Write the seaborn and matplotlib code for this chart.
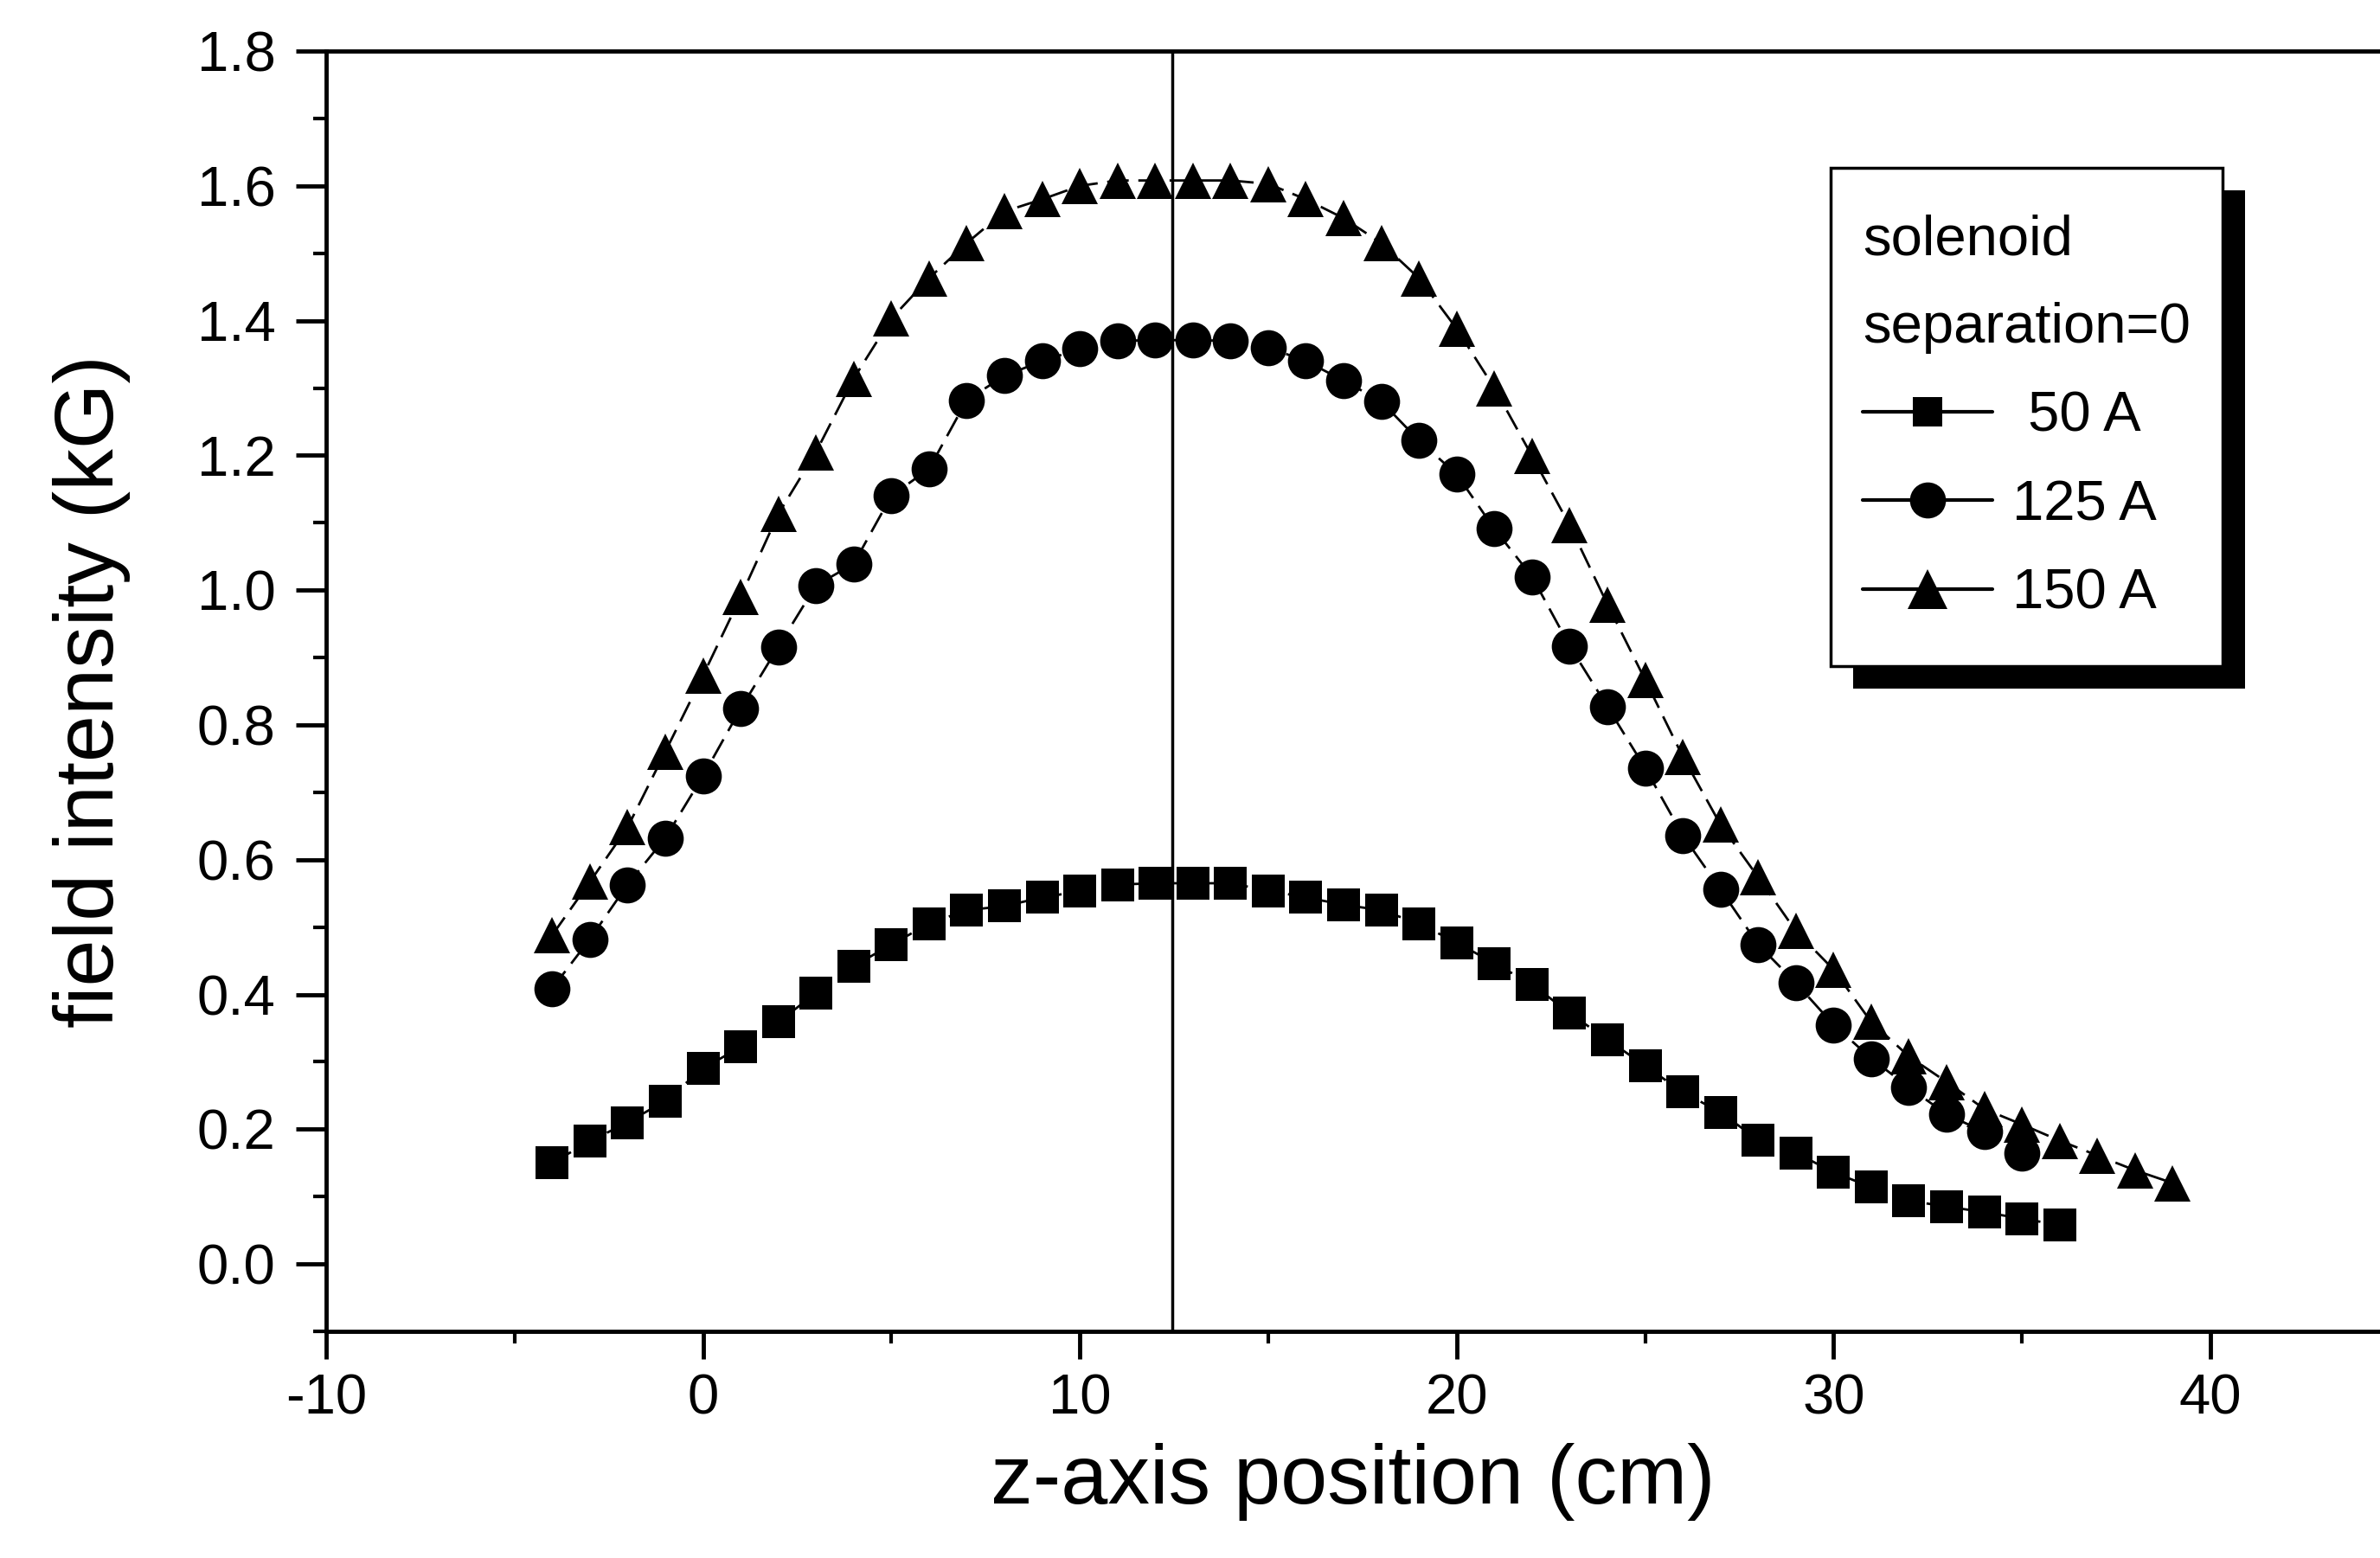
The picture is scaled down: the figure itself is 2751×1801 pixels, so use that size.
import numpy as np
import pandas as pd
import matplotlib
matplotlib.use("Agg")
import matplotlib.pyplot as plt
import seaborn as sns
from matplotlib.lines import Line2D
from matplotlib.patches import Rectangle
from matplotlib.transforms import IdentityTransform
from matplotlib.ticker import MultipleLocator, FormatStrFormatter

# ---------------- data ----------------
z_50 = list(range(-4, 37))
b_50 = [0.150, 0.182, 0.210, 0.242, 0.290, 0.322, 0.359, 0.402, 0.442, 0.474,
        0.505, 0.525, 0.531, 0.544, 0.553, 0.563, 0.565, 0.565, 0.565, 0.554,
        0.544, 0.533, 0.525, 0.505, 0.477, 0.446, 0.415, 0.372, 0.333, 0.294,
        0.255, 0.225, 0.184, 0.165, 0.136, 0.114, 0.094, 0.085, 0.077, 0.067,
        0.058]

z_125 = list(range(-4, 36))
b_125 = [0.409, 0.482, 0.563, 0.632, 0.724, 0.824, 0.916, 1.007, 1.039, 1.140,
         1.180, 1.282, 1.318, 1.340, 1.358, 1.370, 1.371, 1.371, 1.370, 1.360,
         1.340, 1.311, 1.280, 1.222, 1.172, 1.091, 1.020, 0.917, 0.827, 0.736,
         0.636, 0.556, 0.474, 0.417, 0.355, 0.305, 0.262, 0.222, 0.196, 0.164]

z_150 = list(range(-4, 40))
b_150 = [0.488, 0.567, 0.648, 0.760, 0.873, 0.990, 1.113, 1.205, 1.314, 1.403,
         1.463, 1.515, 1.562, 1.580, 1.600, 1.608, 1.608, 1.608, 1.608, 1.603,
         1.580, 1.552, 1.515, 1.463, 1.388, 1.300, 1.199, 1.096, 0.979, 0.867,
         0.753, 0.652, 0.574, 0.494, 0.437, 0.359, 0.308, 0.270, 0.230, 0.207,
         0.183, 0.161, 0.139, 0.120]

series_labels = [" 50 A", "125 A", "150 A"]
legend_title = "solenoid\nseparation=0"
vline_x = 12.45
x_label = "z-axis position (cm)"
y_label = "field intensity (kG)"

# ---------------- style ----------------
sns.set_style("ticks")
plt.rcParams["font.family"] = ["Liberation Sans", "DejaVu Sans"]
plt.rcParams["axes.unicode_minus"] = False
for key in ["text.color", "axes.labelcolor", "xtick.color", "ytick.color",
            "axes.edgecolor", "xtick.labelcolor", "ytick.labelcolor"]:
    plt.rcParams[key] = "black"

DPI = 100
fig = plt.figure(figsize=(27.51, 18.01), dpi=DPI)
ax = fig.add_axes([0.137, 0.1455, 0.863, 0.8217])

dash = (0, (9, 4))
specs = [
    (z_50, b_50, "s", 27),
    (z_125, b_125, "o", 30),
    (z_150, b_150, "^", 30),
]
for zz, bb, mk, ms in specs:
    df = pd.DataFrame({"z": zz, "B": bb})
    sns.lineplot(data=df, x="z", y="B", ax=ax, color="black", marker=mk,
                 markersize=ms, markeredgewidth=0, markeredgecolor="black",
                 linewidth=2, linestyle=dash, zorder=3)

ax.axvline(vline_x, color="black", linewidth=2.5, zorder=2)

ax.set_xlim(-10, 44.5)
ax.set_ylim(-0.1, 1.8)
ax.xaxis.set_major_locator(MultipleLocator(10))
ax.xaxis.set_minor_locator(MultipleLocator(5))
ax.yaxis.set_major_locator(MultipleLocator(0.2))
ax.yaxis.set_minor_locator(MultipleLocator(0.1))
ax.yaxis.set_major_formatter(FormatStrFormatter("%.1f"))

for sp in ["left", "bottom", "top"]:
    ax.spines[sp].set_linewidth(3.5)
    ax.spines[sp].set_color("black")
ax.spines["right"].set_visible(False)

ax.tick_params(axis="both", which="both", direction="out", color="black",
               labelcolor="black", top=False, right=False)
ax.tick_params(axis="y", which="major", length=25, width=3.5, pad=17,
               labelsize=47)
ax.tick_params(axis="y", which="minor", length=11, width=3)
ax.tick_params(axis="x", which="major", length=23, width=3.5, pad=12,
               labelsize=47)
ax.tick_params(axis="x", which="minor", length=10, width=3)

ax.set_xlabel(x_label, fontsize=70, labelpad=15, color="black")
ax.set_ylabel(y_label, fontsize=70, labelpad=55, color="black")

handles = [
    Line2D([], [], color="black", lw=3, marker="s", markersize=25, markeredgewidth=0),
    Line2D([], [], color="black", lw=3, marker="o", markersize=30, markeredgewidth=0),
    Line2D([], [], color="black", lw=3, marker="^", markersize=33, markeredgewidth=0),
]
leg = ax.legend(handles, series_labels, title=legend_title, alignment="left",
                loc="upper left", bbox_to_anchor=(0.7481, 0.8730),
                borderaxespad=0, fontsize=47, title_fontsize=47,
                frameon=False, handlelength=2.3, handletextpad=0.35,
                labelspacing=0.65, borderpad=0.0, numpoints=1)
leg.get_title().set_linespacing(1.9)
leg.get_title().set_color("black")
for t in leg.get_texts():
    t.set_color("black")
leg.set_zorder(7)

fig.canvas.draw()
bb = leg.get_window_extent()
pad_x, pad_top, pad_bot = 37, 53, 53
fx0 = bb.x0 - pad_x
fy0 = bb.y0 - pad_bot
fw = bb.width + 2 * pad_x
fh = bb.height + pad_top + pad_bot
off = 26
shadow = Rectangle((fx0 + off, fy0 - off), fw, fh,
                   transform=IdentityTransform(), facecolor="black",
                   edgecolor="none", zorder=5.5, clip_on=False)
frame = Rectangle((fx0, fy0), fw, fh, transform=IdentityTransform(),
                  facecolor="white", edgecolor="black", linewidth=2.5,
                  zorder=6, clip_on=False)
ax.add_artist(shadow)
ax.add_artist(frame)

fig.savefig("out.png", dpi=DPI, facecolor="white")
